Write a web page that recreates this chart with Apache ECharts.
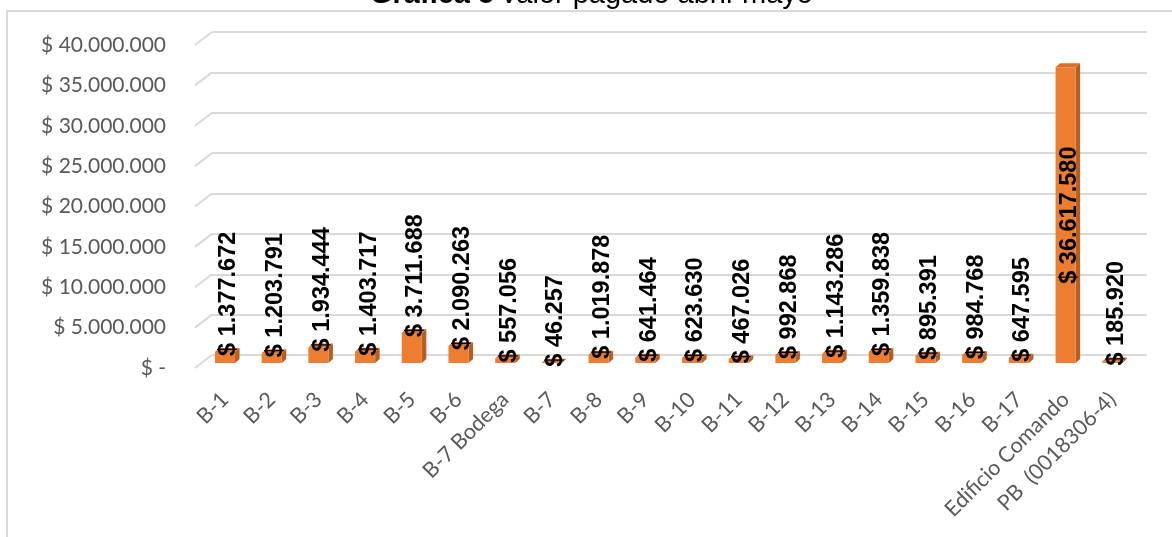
<!DOCTYPE html>
<html>
<head>
<meta charset="utf-8">
<script src="https://cdn.jsdelivr.net/npm/echarts@6/dist/echarts.min.js"></script>
<style>
  html, body { margin: 0; padding: 0; background: #fff; }
  #chart { width: 1172px; height: 537px; }
</style>
</head>
<body>
<div id="chart"></div>
<script>
// Payments per building, April–May
const categories = ['B-1', 'B-2', 'B-3', 'B-4', 'B-5', 'B-6', 'B-7 Bodega', 'B-7', 'B-8', 'B-9',
  'B-10', 'B-11', 'B-12', 'B-13', 'B-14', 'B-15', 'B-16', 'B-17', 'Edificio Comando', 'PB  (0018306-4)'];
const pagado = [1377672, 1203791, 1934444, 1403717, 3711688, 2090263, 557056, 46257, 1019878, 641464,
  623630, 467026, 992868, 1143286, 1359838, 895391, 984768, 647595, 36617580, 185920];
const yTicks = [0, 5000000, 10000000, 15000000, 20000000, 25000000, 30000000, 35000000, 40000000];

const Y_MAX = 40000000, Y_STEP = 5000000;
// depth of the pseudo-3D floor / walls
const DEPTH_X = 17, DEPTH_Y = 13;
// column depth
const COL_DX = 4.5, COL_DY = 4;

const FRONT = { left: 195, top: 45, height: 323 };
const BACK = { left: FRONT.left + DEPTH_X, top: FRONT.top - DEPTH_Y, width: 935, height: 323 };
const BARS = { left: 201.65, top: 40, width: 934, height: 323 };

function miles(v) {
  return String(Math.round(v)).replace(/\B(?=(\d{3})+(?!\d))/g, '.');
}
function money(v) {
  return v === 0 ? '$ -' : '$ ' + miles(v);
}

const chart = echarts.init(document.getElementById('chart'), null, { renderer: 'canvas' });

chart.setOption({
  animation: false,
  backgroundColor: '#ffffff',
  title: {
    left: 370,
    top: -20,
    padding: 0,
    text: '{b|Gráfica 5} {n|Valor pagado abril-mayo}',
    textStyle: {
      rich: {
        b: { fontFamily: 'Liberation Sans', fontSize: 29, fontWeight: 'bold', color: '#000' },
        n: { fontFamily: 'Liberation Sans', fontSize: 29, fontWeight: 'normal', color: '#000' }
      }
    }
  },
  graphic: [{
    type: 'rect',
    silent: true,
    z: -10,
    shape: { x: 7, y: 11, width: 3000, height: 3000 },
    style: { fill: null, stroke: '#d9d9d9', lineWidth: 2 }
  }],
  grid: [
    { left: BACK.left, top: BACK.top, width: BACK.width, height: BACK.height },
    { left: BARS.left, top: BARS.top, width: BARS.width, height: BARS.height },
    { left: FRONT.left, top: FRONT.top, width: DEPTH_X, height: FRONT.height }
  ],
  xAxis: [
    { gridIndex: 0, type: 'category', data: categories, show: false },
    {
      gridIndex: 1, type: 'category', data: categories,
      axisLine: { show: false }, axisTick: { show: false },
      axisLabel: {
        interval: 0, rotate: 45, margin: 33,
        fontFamily: 'Lato', fontSize: 21.5, color: '#595959'
      }
    },
    { gridIndex: 2, type: 'value', min: 0, max: 1, show: false }
  ],
  yAxis: [
    {
      gridIndex: 0, type: 'value', min: 0, max: Y_MAX, interval: Y_STEP,
      axisLine: { show: false }, axisTick: { show: false }, axisLabel: { show: false },
      splitLine: { show: true, lineStyle: { color: '#d9d9d9', width: 2 } }
    },
    { gridIndex: 1, type: 'value', min: 0, max: Y_MAX, interval: Y_STEP, show: false, splitLine: { show: false } },
    {
      gridIndex: 2, type: 'value', min: 0, max: Y_MAX, interval: Y_STEP,
      axisLine: { show: false }, axisTick: { show: false }, splitLine: { show: false },
      axisLabel: {
        margin: 29, fontFamily: 'Lato', fontSize: 21, color: '#595959',
        formatter: money
      }
    }
  ],
  series: [
    {
      // slanted side-wall part of each gridline
      type: 'custom',
      xAxisIndex: 2, yAxisIndex: 2,
      silent: true,
      data: yTicks,
      renderItem: function (params, api) {
        const v = api.value(0);
        const p0 = api.coord([0, v]);
        const p1 = api.coord([1, v]);
        return {
          type: 'line',
          shape: { x1: p0[0], y1: p0[1], x2: p1[0], y2: p0[1] - DEPTH_Y },
          style: { stroke: '#d9d9d9', lineWidth: 2 }
        };
      }
    },
    {
      // 3D columns with rotated value labels
      type: 'custom',
      xAxisIndex: 1, yAxisIndex: 1,
      data: pagado.map(function (v, i) { return [i, v]; }),
      renderItem: function (params, api) {
        const i = api.value(0);
        const v = api.value(1);
        const base = api.coord([i, 0]);
        const top = api.coord([i, v]);
        const w = api.size([1, 0])[0] * 0.43;
        const x = base[0] - w / 2;
        const yb = base[1], yt = top[1];
        const h = yb - yt;
        const children = [
          {
            type: 'polygon',
            shape: { points: [[x + w, yt], [x + w + COL_DX, yt - COL_DY], [x + w + COL_DX, yb - COL_DY], [x + w, yb]] },
            style: { fill: '#b65f23' }
          },
          {
            type: 'rect',
            shape: { x: x, y: yt, width: w, height: h },
            style: { fill: '#ed7d31' }
          },
          {
            type: 'polygon',
            shape: { points: [[x, yt], [x + COL_DX, yt - COL_DY], [x + w + COL_DX, yt - COL_DY], [x + w, yt]] },
            style: { fill: '#d96f28' }
          }
        ];
        const label = money(v);
        const inside = h > 200;
        children.push({
          type: 'text',
          x: base[0] + 4,
          y: inside ? yt + h / 2 : yt + 4,
          rotation: Math.PI / 2,
          z2: 10,
          style: {
            text: label,
            fontFamily: 'Liberation Sans',
            fontWeight: 'bold',
            fontSize: 23.5,
            fill: '#000',
            align: inside ? 'center' : 'left',
            verticalAlign: 'middle'
          }
        });
        return { type: 'group', children: children };
      }
    }
  ]
});
</script>
</body>
</html>
